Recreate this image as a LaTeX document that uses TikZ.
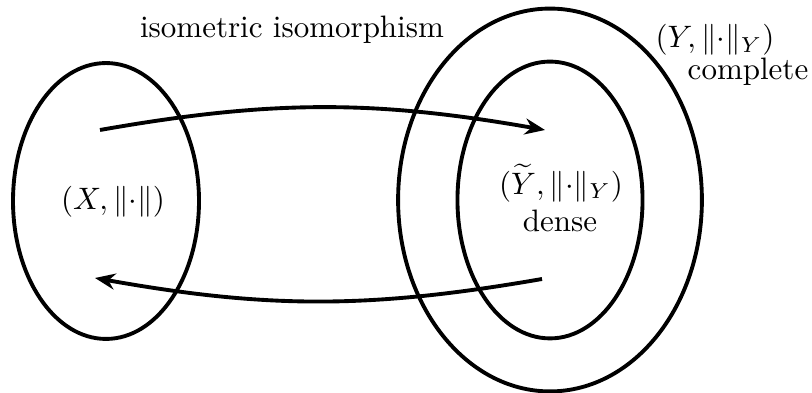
\documentclass[tikz,border=0pt]{standalone}
\usepackage{amsmath}
\usetikzlibrary{shapes.geometric,arrows.meta}
\newcommand{\nrm}{\|{\cdot}\|}
\begin{document}
\begin{tikzpicture}[x=0.32258pt,y=0.32258pt,
  set/.style={draw,ellipse,line width=1.25pt,inner sep=0pt,outer sep=0pt},
  lbl/.style={inner sep=0pt,outer sep=0pt},
  map/.style={line width=1.25pt,-{Stealth[length=6.5pt,width=5.2pt]},bend left=10}]
\useasboundingbox (0,0) rectangle (812,393);
\node[set,minimum width=60pt,minimum height=89pt] (X) at (106,192) {};
\node[set,minimum width=98pt,minimum height=123.5pt] (Y) at (550,193) {};
\node[set,minimum width=59.7pt,minimum height=89.3pt] (Yt) at (550,193) {};
\node[lbl] (iso) at (292,363) {isometric isomorphism};
\node[lbl] (Ylab) at (715,353) {$(Y,\nrm_Y)$};
\node[lbl] (comp) at (748,321) {complete};
\node[lbl] (Xlab) at (113,191) {$(X,\nrm)$};
\node[lbl] (Ytlab) at (561,210) {$(\widetilde{Y},\nrm_Y)$};
\node[lbl] (dense) at (560,172) {dense};
\coordinate (a1) at (100,263);
\coordinate (b1) at (545,263);
\coordinate (a2) at (542,114);
\coordinate (b2) at (95,115);
\draw[map] (a1) to (b1);
\draw[map] (a2) to (b2);
\end{tikzpicture}
\end{document}
